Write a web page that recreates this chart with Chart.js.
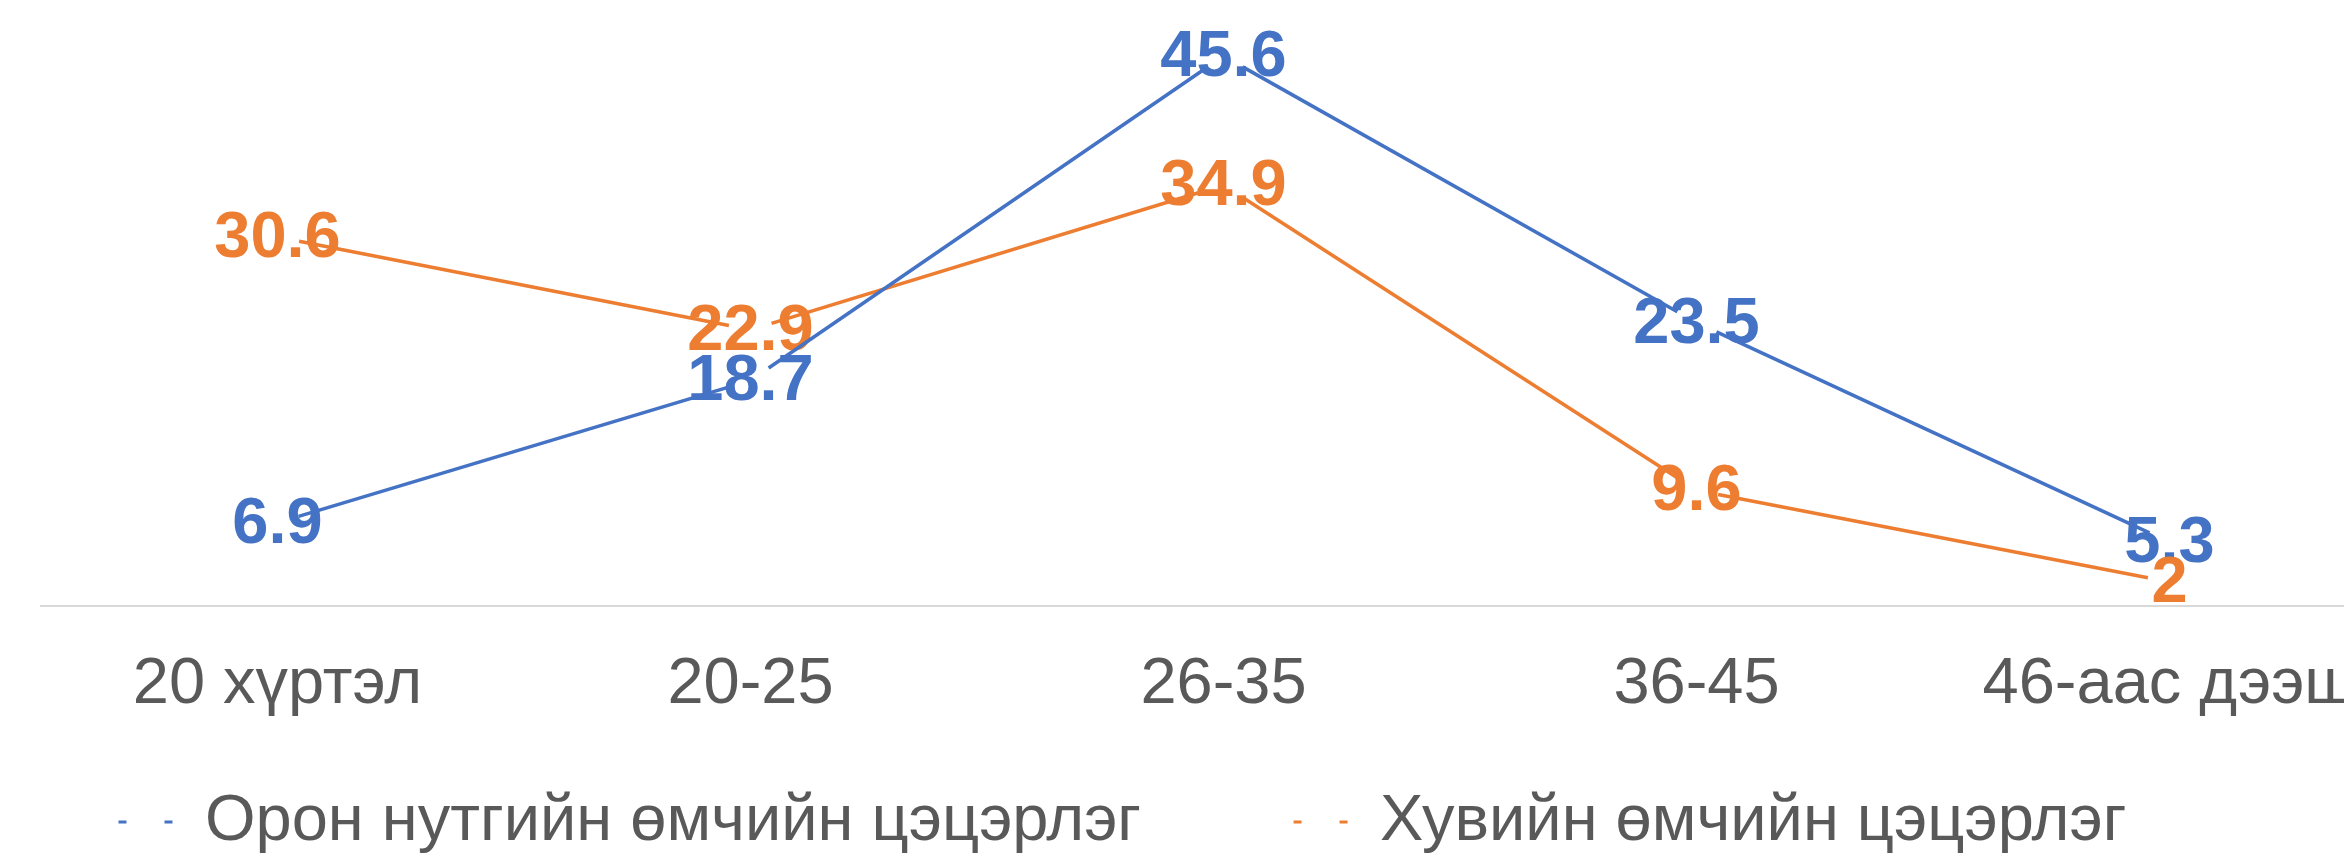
<!DOCTYPE html>
<html lang="mn">
  <head>
    <meta charset="utf-8" />
    <title>Цэцэрлэг</title>
    <script src="https://cdn.jsdelivr.net/npm/chart.js@4.4.1/dist/chart.umd.min.js"></script>
    <style>
      html, body { margin: 0; padding: 0; background: #fff; overflow: hidden; }
      #wrap { width: 2410px; height: 854px; }
    </style>
  </head>
  <body>
    <div id="wrap">
      <canvas id="age_chart" width="2410" height="854"></canvas>
    </div>
    <script>
      // age groups
      const labels = ["20 хүртэл", "20-25", "26-35", "36-45", "46-аас дээш"];
      // series
      const localName = "Орон нутгийн өмчийн цэцэрлэг";
      const localValues = [6.9, 18.7, 45.6, 23.5, 5.3];
      const privateName = "Хувийн өмчийн цэцэрлэг";
      const privateValues = [30.6, 22.9, 34.9, 9.6, 2];

      const BLUE = "#4472C4";
      const ORANGE = "#ED7D31";
      const GREY = "#595959";
      const GAP = 22; // line stops short of each point
      const BOX = 206.5; // legend marker box, dots sit at its right end

      Chart.defaults.font.family = "'Liberation Sans', Arial, sans-serif";

      // leave a gap round every point, like the original
      function gapDash(ctx) {
        const len = Math.hypot(ctx.p1.x - ctx.p0.x, ctx.p1.y - ctx.p0.y);
        return [0, GAP, Math.max(len - 2 * GAP, 0), 2 * GAP + 10];
      }

      // value labels, drawn under the lines
      const valueLabels = {
        id: "valueLabels",
        beforeDatasetsDraw(chart) {
          const ctx = chart.ctx;
          ctx.save();
          ctx.font = "bold 65px 'Liberation Sans', Arial, sans-serif";
          ctx.textAlign = "center";
          ctx.textBaseline = "middle";
          chart.data.datasets.forEach((ds, i) => {
            const meta = chart.getDatasetMeta(i);
            ctx.fillStyle = ds.borderColor;
            meta.data.forEach((pt, j) => {
              ctx.fillText(String(ds.data[j]), pt.x, pt.y + 2);
            });
          });
          ctx.restore();
        },
      };

      const data = {
        labels: labels,
        datasets: [
          {
            label: localName,
            data: localValues,
            borderColor: BLUE,
            backgroundColor: BLUE,
            borderWidth: 3.5,
            pointRadius: 0,
            segment: { borderDash: gapDash },
          },
          {
            label: privateName,
            data: privateValues,
            borderColor: ORANGE,
            backgroundColor: ORANGE,
            borderWidth: 3.5,
            pointRadius: 0,
            segment: { borderDash: gapDash },
          },
        ],
      };

      const config = {
        type: "line",
        data: data,
        plugins: [valueLabels],
        options: {
          responsive: false,
          animation: false,
          layout: { padding: { top: 3, left: -34, right: 4, bottom: -10.5 } },
          scales: {
            x: {
              offset: true,
              grid: { display: false, drawTicks: false },
              border: { display: true, color: "#d9d9d9", width: 2 },
              ticks: {
                color: GREY,
                font: { size: 65 },
                padding: 40,
                maxRotation: 0,
                autoSkip: false,
              },
              afterFit: (s) => { s.height = 183.5; },
            },
            y: {
              min: 0,
              max: 50,
              grid: { display: false },
              border: { display: false },
              ticks: { display: false },
              afterFit: (s) => { s.width = 75; },
            },
          },
          plugins: {
            tooltip: { enabled: false },
            legend: {
              position: "bottom",
              align: "start",
              labels: {
                color: GREY,
                font: { size: 65 },
                padding: 0,
                usePointStyle: true,
                pointStyleWidth: BOX,
                generateLabels: (chart) =>
                  chart.data.datasets.map((ds, i) => ({
                    text: ds.label,
                    fillStyle: ds.borderColor,
                    strokeStyle: ds.borderColor,
                    fontColor: GREY,
                    lineWidth: 3,
                    lineDash: [0, BOX - 54, 8, 38, 8, 1000],
                    pointStyle: "line",
                    hidden: false,
                    datasetIndex: i,
                  })),
              },
            },
          },
        },
      };

      const myChart = new Chart(document.getElementById("age_chart"), config);
    </script>
  </body>
</html>
